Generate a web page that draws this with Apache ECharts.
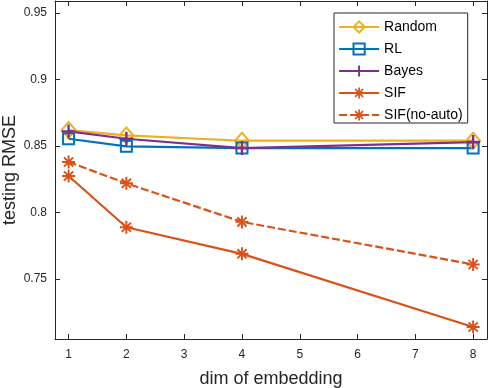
<!DOCTYPE html>
<html>
<head>
<meta charset="utf-8">
<script src="https://cdn.jsdelivr.net/npm/echarts@6/dist/echarts.min.js"></script>
<style>html,body{margin:0;padding:0;background:#fff}#c{width:488px;height:388px}</style>
</head>
<body>
<div id="c"></div>
<script>
var dims = [1, 2, 4, 8];
var randomVals = [0.862, 0.858, 0.854, 0.854];
var rlVals = [0.8555, 0.8498, 0.8485, 0.8485];
var bayesVals = [0.861, 0.8555, 0.8485, 0.853];
var sifVals = [0.8275, 0.789, 0.769, 0.714];
var sifNoAutoVals = [0.838, 0.822, 0.793, 0.761];
var xTicks = [1, 2, 3, 4, 5, 6, 7, 8];
var yTicks = [0.75, 0.8, 0.85, 0.9, 0.95];
var seriesNames = ['Random', 'RL', 'Bayes', 'SIF', 'SIF(no-auto)'];

function pairs(v) { return dims.map(function (d, i) { return [d, v[i]]; }); }

var plusPath = 'path://M-0.17,-1L0.17,-1L0.17,-0.17L1,-0.17L1,0.17L0.17,0.17L0.17,1L-0.17,1L-0.17,0.17L-1,0.17L-1,-0.17L-0.17,-0.17Z';
var starPath = 'path://M-1,-0.15L1,-0.15L1,0.15L-1,0.15Z' +
  'M0.15,-1L0.15,1L-0.15,1L-0.15,-1Z' +
  'M-0.601,-0.813L0.813,0.601L0.601,0.813L-0.813,-0.601Z' +
  'M-0.813,0.601L0.601,-0.813L0.813,-0.601L-0.601,0.813Z';

var font = "'Liberation Sans', Arial, sans-serif";
var axisColor = '#262626';
var C = { y: '#EDB120', b: '#0072BD', p: '#7E2F8E', o: '#D95319' };

function mkSeries(name, vals, color, symbol, size, hollow, dashed) {
  return {
    name: name, type: 'line', data: pairs(vals),
    symbol: symbol, symbolSize: size, showSymbol: true,
    lineStyle: { color: color, width: 2.2, type: dashed ? [8, 3] : 'solid' },
    itemStyle: hollow ? { color: 'rgba(255,255,255,0)', borderColor: color, borderWidth: 2 }
                      : { color: color, borderWidth: 0 },
    emphasis: { disabled: true },
    animation: false
  };
}

var chart = echarts.init(document.getElementById('c'), null, { renderer: 'canvas' });
var xMin = 0.765, xMax = 8.24, yMin = 0.705, yMax = 0.959;
chart.setOption({
  animation: false,
  textStyle: { fontFamily: font },
  grid: { left: 55, right: 1, top: 1, bottom: 49, containLabel: false, outerBoundsMode: 'none' },
  legend: {
    orient: 'vertical', left: 334, top: 13,
    padding: [7, 5, 1, 4], itemGap: 8, itemWidth: 40, itemHeight: 14,
    borderColor: '#262626', borderWidth: 1, backgroundColor: '#fff',
    lineStyle: { width: 2.2 },
    textStyle: { fontSize: 14, color: '#000', fontFamily: font, lineHeight: 14 },
    data: seriesNames
  },
  xAxis: [{
    type: 'value', min: xMin, max: xMax, position: 'bottom',
    name: 'dim of embedding', nameLocation: 'middle', nameGap: 31, nameMoveOverlap: false,
    nameTextStyle: { fontSize: 18, color: axisColor, fontFamily: font },
    axisLine: { show: true, lineStyle: { color: axisColor, width: 1 } },
    axisTick: { show: true, inside: true, length: 5, customValues: xTicks, lineStyle: { color: axisColor } },
    axisLabel: { customValues: xTicks, margin: 10, fontSize: 12, color: axisColor, fontFamily: font },
    splitLine: { show: false }
  }, {
    type: 'value', min: xMin, max: xMax, position: 'top',
    axisLine: { show: true, lineStyle: { color: axisColor, width: 1 } },
    axisTick: { show: true, inside: true, length: 5, customValues: xTicks, lineStyle: { color: axisColor } },
    axisLabel: { show: false }, splitLine: { show: false }
  }],
  yAxis: [{
    type: 'value', min: yMin, max: yMax, position: 'left',
    name: 'testing RMSE', nameLocation: 'middle', nameGap: 36, nameMoveOverlap: false,
    nameTextStyle: { fontSize: 18, color: axisColor, fontFamily: font },
    axisLine: { show: true, lineStyle: { color: axisColor, width: 1 } },
    axisTick: { show: true, inside: true, length: 5, customValues: yTicks, lineStyle: { color: axisColor } },
    axisLabel: { customValues: yTicks, margin: 8, fontSize: 12, color: axisColor, fontFamily: font },
    splitLine: { show: false }
  }, {
    type: 'value', min: yMin, max: yMax, position: 'right',
    axisLine: { show: true, lineStyle: { color: axisColor, width: 1 } },
    axisTick: { show: true, inside: true, length: 5, customValues: yTicks, lineStyle: { color: axisColor } },
    axisLabel: { show: false }, splitLine: { show: false }
  }],
  series: [
    mkSeries(seriesNames[0], randomVals, C.y, 'diamond', [14, 16], true, false),
    mkSeries(seriesNames[1], rlVals, C.b, 'rect', 11, true, false),
    mkSeries(seriesNames[2], bayesVals, C.p, plusPath, 14, false, false),
    mkSeries(seriesNames[3], sifVals, C.o, starPath, 13, false, false),
    mkSeries(seriesNames[4], sifNoAutoVals, C.o, starPath, 13, false, true)
  ]
});
</script>
</body>
</html>
